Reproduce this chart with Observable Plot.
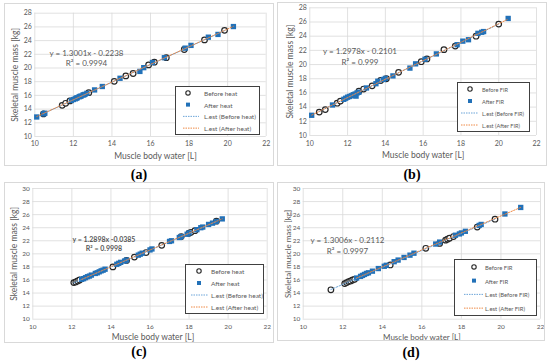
<!DOCTYPE html>
<html><head><meta charset="utf-8">
<script src="https://cdn.jsdelivr.net/npm/d3@7"></script>
<script src="https://cdn.jsdelivr.net/npm/@observablehq/plot@0.6"></script>
<style>
html,body{margin:0;padding:0;background:#fff;}
#fig{position:relative;width:550px;height:364px;overflow:hidden;font-family:Lato,sans-serif;}
.panel{position:absolute;}
.panel svg{display:block;outline:1px solid #d9d9d9;outline-offset:-1px;}
.eq{position:absolute;color:#595959;white-space:nowrap;text-align:center;transform:translateX(-50%);font-family:Lato,sans-serif;}
.legend{position:absolute;border:1px solid #404040;background:#fff;box-sizing:border-box;}
.legend .lt{position:absolute;color:#595959;white-space:nowrap;transform:translateY(-50%);}
.legend svg{position:absolute;overflow:visible;}
.cap{position:absolute;font-family:"Liberation Serif",serif;font-weight:bold;font-size:14px;transform:translateX(-50%);line-height:16px;}
</style>
</head><body>
<div id="fig"></div>
<script>
// ---------- data ----------
const xTicks = [10, 12, 14, 16, 18, 20, 22];
const yTicksAB = [10, 12, 14, 16, 18, 20, 22, 24, 26, 28];
const yTicksCD = [10, 12, 14, 16, 18, 20, 22, 24, 26, 28, 30];
const xLabel = "Muscle body water [L]";
const yLabel = "Skeletal muscle mass [kg]";
const namesHeat = ["Before heat", "After heat", "L.est (Before heat)", "L.est (After heat)"];
const namesFIR = ["Before FIR", "After FIR", "L.est (Before FIR)", "L.est (After FIR)"];
const captions = ["(a)", "(b)", "(c)", "(d)"];
const equations = [
  ["y = 1.3001x - 0.2238", "R² = 0.9994"],
  ["y = 1.2978x - 0.2101", "R² = 0.999"],
  ["y = 1.2898x -0.0385", "R² = 0.9998"],
  ["y = 1.3006x - 0.2112", "R² = 0.9997"]
];

// panel (a)
const aBeforeX = [10.45, 11.42, 11.6, 11.82, 12.8, 14.12, 14.72, 15.1, 15.9, 16.2, 16.82, 17.75, 18.8, 19.84];
const aBeforeY = [13.3, 14.55, 14.85, 15.2, 16.4, 18.05, 18.85, 19.2, 20.45, 20.85, 21.5, 22.7, 24.1, 25.5];
const aAfterX = [10.1, 10.45, 10.52, 11.9, 12.0, 12.1, 12.15, 12.2, 12.3, 12.35, 12.4, 12.5, 12.55, 12.6, 12.7, 13.1, 13.5, 14.42, 15.45, 15.65, 16.1, 16.72, 17.8, 18.1, 19.0, 19.5, 20.3];
const aAfterY = [12.85, 13.3, 13.4, 15.25, 15.4, 15.5, 15.6, 15.65, 15.8, 15.85, 15.9, 16.05, 16.1, 16.15, 16.3, 16.8, 17.3, 18.5, 19.5, 20.05, 20.8, 21.5, 22.9, 23.3, 24.5, 24.9, 26.05];
// panel (b)
const bBeforeX = [10.5, 10.82, 11.45, 11.62, 12.6, 12.85, 13.3, 13.75, 14.05, 14.7, 15.9, 16.2, 17.1, 17.7, 18.8, 20.0];
const bBeforeY = [13.3, 13.65, 14.55, 14.85, 16.25, 16.55, 17.0, 17.75, 18.0, 18.9, 20.4, 20.8, 22.1, 22.6, 24.0, 25.7];
const bAfterX = [10.1, 11.2, 11.8, 11.9, 12.0, 12.1, 12.2, 12.3, 12.4, 12.45, 12.5, 12.6, 13.0, 13.5, 13.6, 13.9, 14.0, 14.4, 15.3, 15.6, 16.1, 16.7, 17.8, 18.1, 18.4, 18.9, 19.1, 19.2, 20.5];
const bAfterY = [12.85, 14.3, 15.1, 15.25, 15.4, 15.5, 15.6, 15.75, 15.85, 15.55, 16.0, 16.1, 16.7, 17.3, 17.65, 17.9, 18.05, 18.4, 19.5, 20.1, 20.75, 21.5, 22.8, 23.3, 23.5, 24.4, 24.55, 24.65, 26.5];
// panel (c)
const cBeforeX = [12.1, 12.2, 12.3, 12.4, 14.1, 14.8, 15.2, 15.8, 16.6, 17.6, 18.0, 18.1, 18.3, 19.4];
const cBeforeY = [15.6, 15.7, 15.85, 16.0, 18.0, 19.0, 19.5, 20.2, 21.3, 22.65, 23.15, 23.3, 23.55, 25.0];
const cAfterX = [12.5, 12.6, 12.7, 12.8, 12.9, 13.0, 13.2, 13.3, 13.4, 13.5, 13.6, 13.7, 14.3, 14.4, 14.5, 14.7, 14.8, 15.4, 15.5, 15.6, 16.0, 16.1, 17.0, 17.1, 17.5, 17.6, 17.9, 18.0, 18.4, 18.6, 18.7, 19.0, 19.2, 19.4, 19.7];
const cAfterY = [16.1, 16.2, 16.35, 16.5, 16.6, 16.75, 17.0, 17.1, 17.25, 17.4, 17.5, 17.65, 18.4, 18.55, 18.7, 18.9, 19.05, 19.8, 19.95, 20.1, 20.6, 20.75, 21.9, 22.0, 22.5, 22.65, 23.0, 23.2, 23.7, 24.0, 24.1, 24.5, 24.7, 24.95, 25.35];
// panel (d)
const dBeforeX = [11.4, 12.1, 12.2, 12.3, 12.4, 12.5, 12.6, 14.4, 16.2, 16.9, 17.2, 17.3, 17.4, 17.6, 18.8, 19.7];
const dBeforeY = [14.5, 15.45, 15.6, 15.75, 15.85, 16.0, 16.1, 18.3, 20.85, 21.6, 22.1, 22.25, 22.4, 22.65, 24.1, 25.3];
const dAfterX = [12.7, 12.9, 13.0, 13.1, 13.2, 13.3, 13.5, 13.8, 14.1, 14.2, 14.6, 14.8, 15.1, 15.4, 15.6, 16.7, 16.9, 17.7, 17.9, 18.0, 18.2, 18.9, 19.0, 20.2, 21.0];
const dAfterY = [16.3, 16.55, 16.7, 16.85, 17.0, 17.1, 17.35, 17.75, 18.1, 18.25, 18.8, 19.05, 19.45, 19.8, 20.1, 21.5, 21.8, 22.85, 23.05, 23.2, 23.45, 24.35, 24.5, 26.1, 27.1];

// ---------- styles ----------
const BLUE = "#2271b8";
const LINE_BLUE = "#5b9bd5";
const LINE_ORANGE = "#ed7d31";
const GRAY = "#595959";

// ---------- layout ----------
const layouts = [
  {left:4, top:3, w:270, h:163, ml:30.3, mr:8.3, mt:9.7, mb:30, yTicks:yTicksAB, yMax:28, tick:7, xPad:5, yPad:3, tdy:20, tdx:5, ydx:-19.3, tfs:8.5,
   eq:{cx:86.5, top:48, lh:10, fs:8, bold:false},
   lg:{x:175, y:86, w:85, h:49, sym:12, txt:28, l0:7, l1:23, fs:6.5},
   cap:{cx:139, top:167}},
  {left:277, top:2, w:270, h:164, ml:32.3, mr:11, mt:5.3, mb:31, yTicks:yTicksAB, yMax:28, tick:7, xPad:6, yPad:3, tdy:20, tdx:0, ydx:-19.3, tfs:8.5,
   eq:{cx:360, top:45.5, lh:11, fs:8, bold:false},
   lg:{x:457, y:82, w:73, h:50, sym:12, txt:24, l0:3, l1:20, fs:5.6},
   cap:{cx:412, top:167}},
  {left:4, top:182, w:270, h:161, ml:28.3, mr:7.3, mt:6, mb:24.3, yTicks:yTicksCD, yMax:30, tick:6.5, xPad:5, yPad:3, tdy:18, tdx:3, ydx:-18.3, tfs:8.5,
   eq:{cx:104, top:234.5, lh:9.5, fs:7, bold:true},
   lg:{x:185, y:264, w:79, h:50, sym:13, txt:25, l0:5, l1:22, fs:6.5},
   cap:{cx:139, top:344}},
  {left:277, top:182, w:268, h:159, ml:25.7, mr:5, mt:6, mb:22.3, yTicks:yTicksCD, yMax:30, tick:6.5, xPad:5, yPad:3, tdy:18, tdx:0, ydx:-14.4, tfs:8,
   eq:{cx:347.5, top:234.5, lh:11, fs:8, bold:false},
   lg:{x:454, y:259, w:83, h:57, sym:19, txt:30, l0:9, l1:28, fs:5.9},
   cap:{cx:411, top:345}}
];

const panelsData = [
  [aBeforeX, aBeforeY, aAfterX, aAfterY, namesHeat],
  [bBeforeX, bBeforeY, bAfterX, bAfterY, namesFIR],
  [cBeforeX, cBeforeY, cAfterX, cAfterY, namesHeat],
  [dBeforeX, dBeforeY, dAfterX, dAfterY, namesFIR]
];

const fig = document.getElementById("fig");

layouts.forEach((L, k) => {
  const [bx, by, ax, ay, names] = panelsData[k];
  const before = bx.map((x, i) => ({x, y: by[i]}));
  const after = ax.map((x, i) => ({x, y: ay[i]}));
  const plot = Plot.plot({
    width: L.w, height: L.h,
    marginLeft: L.ml, marginRight: L.mr, marginTop: L.mt, marginBottom: L.mb,
    style: {fontFamily: "Lato, sans-serif", fontSize: L.tick + "px", color: GRAY, background: "#fff", overflow: "visible"},
    x: {domain: [10, 22]},
    y: {domain: [10, L.yMax]},
    marks: [
      Plot.gridX(xTicks, {stroke: "#d9d9d9", strokeOpacity: 1, strokeWidth: 0.8}),
      Plot.gridY(L.yTicks, {stroke: "#d9d9d9", strokeOpacity: 1, strokeWidth: 0.8}),
      Plot.axisX({ticks: xTicks, tickSize: 0, tickPadding: L.xPad, label: null, tickFormat: d => String(d)}),
      Plot.axisY({ticks: L.yTicks, tickSize: 0, tickPadding: L.yPad, label: null, tickFormat: d => String(d)}),
      Plot.text([xLabel], {frameAnchor: "bottom", dy: L.tdy, dx: L.tdx, text: d => d, fontSize: L.tfs, fill: GRAY, textAnchor: "middle", lineAnchor: "middle"}),
      Plot.text([yLabel], {frameAnchor: "left", dx: L.ydx, rotate: -90, text: d => d, fontSize: L.tfs, fill: GRAY, textAnchor: "middle", lineAnchor: "middle"}),
      Plot.dot(before, {x: "x", y: "y", r: 2.8, stroke: "#262626", strokeWidth: 1.2, fill: "#fff"}),
      Plot.dot(after, {x: "x", y: "y", symbol: "square", r: 3, fill: BLUE, stroke: "none"}),
      Plot.linearRegressionY(before, {x: "x", y: "y", ci: 0, stroke: LINE_BLUE, strokeWidth: 0.9, strokeDasharray: "1.5,1.5"}),
      Plot.linearRegressionY(after, {x: "x", y: "y", ci: 0, stroke: LINE_ORANGE, strokeWidth: 0.9, strokeDasharray: "1.5,1.5"})
    ]
  });
  const p = document.createElement("div");
  p.className = "panel";
  p.style.left = L.left + "px";
  p.style.top = L.top + "px";
  p.appendChild(plot);
  fig.appendChild(p);

  // equation
  const eq = document.createElement("div");
  eq.className = "eq";
  eq.style.left = L.eq.cx + "px";
  eq.style.top = L.eq.top + "px";
  eq.style.fontSize = L.eq.fs + "px";
  eq.style.lineHeight = L.eq.lh + "px";
  if (L.eq.bold) eq.style.fontWeight = "bold";
  eq.innerHTML = equations[k][0] + "<br>" + equations[k][1];
  fig.appendChild(eq);

  // legend
  const lg = document.createElement("div");
  lg.className = "legend";
  Object.assign(lg.style, {left: L.lg.x + "px", top: L.lg.y + "px", width: L.lg.w + "px", height: L.lg.h + "px"});
  names.forEach((name, i) => {
    const cy = (i + 0.5) * (L.lg.h - 2) / 4;
    const t = document.createElement("div");
    t.className = "lt";
    t.style.left = L.lg.txt + "px";
    t.style.top = cy + "px";
    t.style.fontSize = L.lg.fs + "px";
    t.textContent = name;
    lg.appendChild(t);
    const s = document.createElementNS("http://www.w3.org/2000/svg", "svg");
    s.setAttribute("width", 1); s.setAttribute("height", 1);
    s.style.left = "0px"; s.style.top = "0px";
    let inner = "";
    if (i === 0) inner = `<circle cx="${L.lg.sym}" cy="${cy}" r="2.2" fill="#fff" stroke="#262626" stroke-width="1.1"/>`;
    else if (i === 1) inner = `<rect x="${L.lg.sym - 2}" y="${cy - 2}" width="4" height="4" fill="${BLUE}"/>`;
    else inner = `<line x1="${L.lg.l0}" x2="${L.lg.l1}" y1="${cy}" y2="${cy}" stroke="${i === 2 ? LINE_BLUE : LINE_ORANGE}" stroke-width="0.9" stroke-dasharray="1.5,1"/>`;
    s.innerHTML = inner;
    lg.appendChild(s);
  });
  fig.appendChild(lg);

  // caption
  const c = document.createElement("div");
  c.className = "cap";
  c.style.left = L.cap.cx + "px";
  c.style.top = L.cap.top + "px";
  c.textContent = captions[k];
  fig.appendChild(c);
});
</script>
</body></html>
